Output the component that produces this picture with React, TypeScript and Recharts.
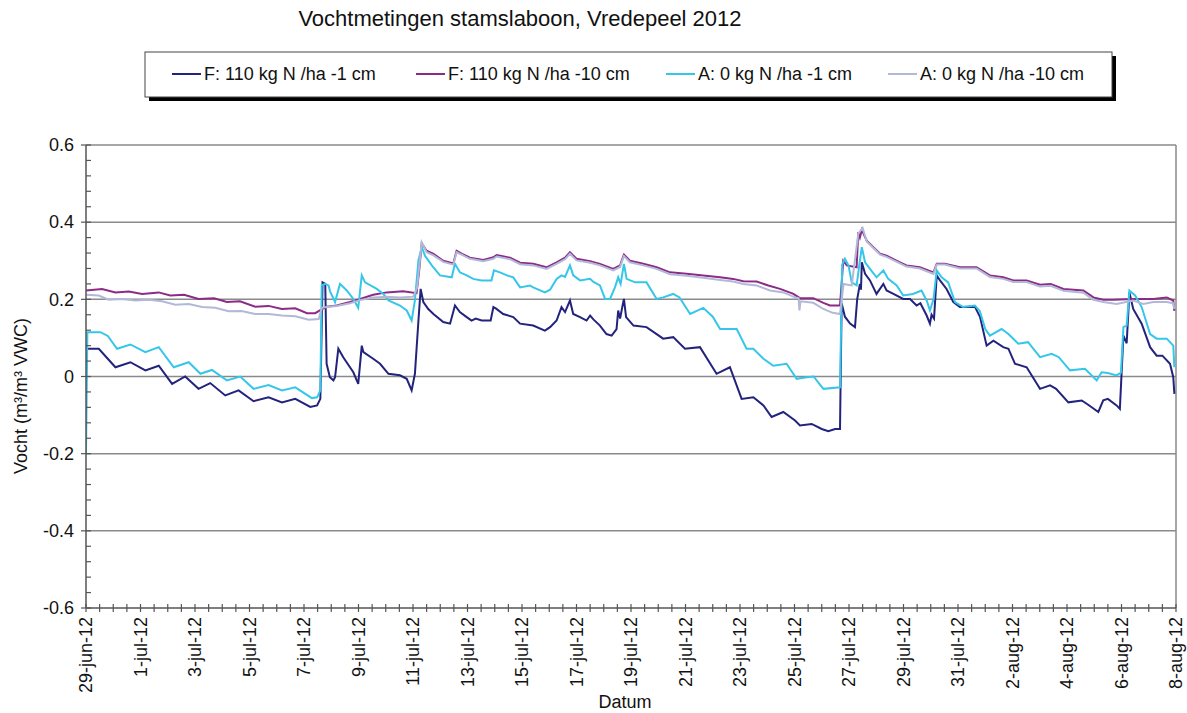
import { LineChart, Line, XAxis, YAxis, ReferenceLine } from 'recharts'

// day offsets from 29-jun-12 00:00, value in m3/m3 VWC
const f1cm: [number, number][] = [
  [0, 0.072], [0.47, 0.072], [1.08, 0.024], [1.63, 0.037], [2.18, 0.016], [2.67, 0.028], [3.16, -0.019], [3.64, 0.0],
  [4.13, -0.032], [4.56, -0.017], [5.11, -0.049], [5.6, -0.036], [6.15, -0.064], [6.7, -0.054], [7.19, -0.067], [7.68, -0.058],
  [8.23, -0.079], [8.48, -0.075], [8.6, -0.058], [8.68, 0.244], [8.78, 0.24], [8.83, 0.033], [8.95, -0.002], [9.08, -0.01],
  [9.14, -0.002], [9.26, 0.072], [9.44, 0.05], [9.81, 0.011], [9.99, -0.019], [10.12, 0.08], [10.18, 0.063], [10.54, 0.046],
  [10.79, 0.033], [11.1, 0.007], [11.52, 0.003], [11.77, -0.006], [11.95, -0.036], [12.07, 0.007], [12.2, 0.145], [12.28, 0.227],
  [12.38, 0.193], [12.56, 0.175], [12.75, 0.162], [13.11, 0.141], [13.36, 0.137], [13.54, 0.184], [13.72, 0.167], [13.97, 0.154],
  [14.15, 0.145], [14.3, 0.15], [14.52, 0.145], [14.85, 0.145], [14.95, 0.18], [15.05, 0.176], [15.31, 0.162], [15.68, 0.154],
  [15.93, 0.137], [16.41, 0.132], [16.84, 0.119], [17.03, 0.128], [17.27, 0.145], [17.45, 0.18], [17.58, 0.167], [17.76, 0.197],
  [17.88, 0.162], [18.13, 0.154], [18.37, 0.145], [18.5, 0.158], [18.62, 0.148], [18.86, 0.132], [19.1, 0.11], [19.29, 0.106],
  [19.47, 0.123], [19.53, 0.171], [19.6, 0.15], [19.68, 0.18], [19.74, 0.201], [19.82, 0.154], [20.09, 0.132], [20.57, 0.128],
  [20.94, 0.11], [21.18, 0.098], [21.55, 0.102], [21.98, 0.072], [22.53, 0.076], [23.14, 0.007], [23.63, 0.024], [24.06, -0.058],
  [24.49, -0.054], [24.86, -0.075], [25.16, -0.105], [25.59, -0.092], [26.02, -0.114], [26.2, -0.127], [26.63, -0.123], [27.0, -0.136],
  [27.24, -0.142], [27.49, -0.136], [27.67, -0.136], [27.73, 0.19], [27.85, 0.155], [28.04, 0.137], [28.22, 0.128], [28.3, 0.2],
  [28.4, 0.24], [28.44, 0.225], [28.47, 0.296], [28.59, 0.266], [28.77, 0.249], [29.01, 0.214], [29.26, 0.24], [29.38, 0.223],
  [29.63, 0.214], [29.99, 0.201], [30.24, 0.201], [30.48, 0.184], [30.62, 0.19], [30.85, 0.158], [30.97, 0.137], [31.03, 0.16],
  [31.12, 0.15], [31.22, 0.262], [31.34, 0.249], [31.58, 0.227], [31.83, 0.193], [32.07, 0.18], [32.62, 0.181], [32.81, 0.154],
  [33.05, 0.08], [33.3, 0.093], [33.66, 0.076], [33.85, 0.072], [34.09, 0.033], [34.52, 0.024], [35.01, -0.032], [35.38, -0.023],
  [35.6, -0.032], [36.05, -0.067], [36.54, -0.062], [36.75, -0.072], [37.15, -0.092], [37.33, -0.062], [37.5, -0.058], [37.82, -0.075],
  [37.94, -0.084], [38.07, 0.106], [38.19, 0.086], [38.29, 0.218], [38.43, 0.175], [38.74, 0.137], [39.05, 0.076], [39.29, 0.054],
  [39.5, 0.054], [39.78, 0.033], [39.9, -0.002], [39.94, -0.045],
]

const f10cm: [number, number][] = [
  [0, 0.223], [0.59, 0.227], [1.08, 0.218], [1.57, 0.22], [2.06, 0.214], [2.67, 0.218], [3.09, 0.21], [3.6, 0.212],
  [4.13, 0.201], [4.7, 0.203], [5.17, 0.193], [5.65, 0.195], [6.21, 0.181], [6.7, 0.183], [7.19, 0.175], [7.68, 0.177],
  [8.11, 0.164], [8.41, 0.164], [8.6, 0.172], [8.83, 0.181], [9.2, 0.184], [9.69, 0.193], [10.06, 0.201], [10.54, 0.212],
  [11.03, 0.218], [11.64, 0.221], [12.13, 0.216], [12.22, 0.27], [12.32, 0.345], [12.5, 0.326], [12.75, 0.318], [13.11, 0.3],
  [13.48, 0.293], [13.6, 0.326], [13.8, 0.318], [14.09, 0.308], [14.58, 0.302], [14.95, 0.309], [15.07, 0.315], [15.56, 0.308],
  [15.93, 0.295], [16.41, 0.292], [16.9, 0.283], [17.27, 0.296], [17.58, 0.308], [17.76, 0.322], [18.0, 0.305], [18.5, 0.299],
  [18.86, 0.292], [19.35, 0.279], [19.6, 0.288], [19.74, 0.316], [19.96, 0.3], [20.45, 0.292], [20.94, 0.283], [21.43, 0.27],
  [22.04, 0.266], [22.65, 0.262], [23.27, 0.257], [23.75, 0.253], [24.12, 0.247], [24.61, 0.246], [25.04, 0.236], [25.47, 0.227],
  [25.96, 0.214], [26.2, 0.203], [26.69, 0.203], [27.06, 0.191], [27.3, 0.184], [27.67, 0.184], [27.79, 0.3], [27.92, 0.288],
  [28.28, 0.283], [28.34, 0.374], [28.4, 0.36], [28.47, 0.38], [28.65, 0.352], [29.14, 0.318], [29.38, 0.313], [29.87, 0.296],
  [30.11, 0.288], [30.6, 0.283], [31.1, 0.27], [31.22, 0.292], [31.52, 0.292], [32.07, 0.283], [32.68, 0.283], [33.17, 0.262],
  [33.66, 0.257], [34.03, 0.249], [34.52, 0.249], [35.01, 0.238], [35.4, 0.24], [35.87, 0.227], [36.6, 0.223], [36.97, 0.205],
  [37.33, 0.199], [37.7, 0.199], [38.43, 0.201], [39.17, 0.201], [39.66, 0.205], [39.9, 0.197], [39.94, 0.17],
]

const a1cm: [number, number][] = [
  [0, -0.2], [0.05, 0.115], [0.53, 0.115], [0.8, 0.105], [1.14, 0.072], [1.63, 0.083], [2.18, 0.063], [2.67, 0.076],
  [3.22, 0.024], [3.77, 0.037], [4.2, 0.007], [4.62, 0.017], [5.17, -0.01], [5.66, 0.0], [6.15, -0.032], [6.7, -0.022],
  [7.19, -0.036], [7.68, -0.028], [8.29, -0.056], [8.48, -0.054], [8.6, -0.036], [8.65, 0.236], [8.77, 0.24], [8.9, 0.236],
  [8.96, 0.22], [9.14, 0.193], [9.32, 0.24], [9.57, 0.223], [9.81, 0.201], [9.99, 0.178], [10.12, 0.262], [10.24, 0.244],
  [10.67, 0.227], [10.91, 0.214], [11.1, 0.197], [11.52, 0.184], [11.77, 0.171], [11.95, 0.145], [12.07, 0.197], [12.2, 0.301],
  [12.32, 0.335], [12.44, 0.313], [12.69, 0.288], [12.99, 0.262], [13.42, 0.257], [13.54, 0.292], [13.72, 0.27], [13.97, 0.262],
  [14.21, 0.253], [14.52, 0.249], [14.88, 0.249], [14.97, 0.275], [15.19, 0.27], [15.45, 0.262], [15.68, 0.257], [15.93, 0.231],
  [16.29, 0.236], [16.41, 0.231], [16.84, 0.218], [17.03, 0.225], [17.27, 0.253], [17.45, 0.262], [17.58, 0.258], [17.76, 0.288],
  [17.88, 0.262], [18.13, 0.249], [18.5, 0.253], [18.62, 0.245], [18.86, 0.236], [19.05, 0.201], [19.23, 0.201], [19.41, 0.231],
  [19.53, 0.257], [19.62, 0.24], [19.74, 0.292], [19.84, 0.253], [20.15, 0.244], [20.57, 0.244], [20.94, 0.201], [21.18, 0.205],
  [21.55, 0.214], [21.78, 0.205], [22.17, 0.162], [22.65, 0.178], [23.0, 0.155], [23.27, 0.123], [23.88, 0.123], [24.24, 0.072],
  [24.49, 0.072], [24.86, 0.046], [25.22, 0.028], [25.71, 0.033], [26.08, -0.006], [26.45, -0.002], [26.7, 0.0], [27.06, -0.032],
  [27.67, -0.028], [27.75, 0.29], [27.85, 0.305], [27.98, 0.288], [28.1, 0.244], [28.28, 0.236], [28.38, 0.29], [28.47, 0.335],
  [28.59, 0.296], [28.77, 0.279], [29.01, 0.257], [29.26, 0.275], [29.44, 0.253], [29.75, 0.236], [29.99, 0.21], [30.35, 0.214],
  [30.66, 0.223], [30.85, 0.197], [30.97, 0.171], [31.1, 0.2], [31.22, 0.275], [31.4, 0.257], [31.64, 0.244], [31.89, 0.193],
  [32.19, 0.18], [32.62, 0.184], [32.8, 0.17], [33.0, 0.123], [33.17, 0.106], [33.6, 0.123], [33.85, 0.11], [34.21, 0.085],
  [34.57, 0.089], [35.01, 0.05], [35.44, 0.059], [35.7, 0.05], [36.11, 0.016], [36.66, 0.02], [37.09, -0.01], [37.27, 0.011],
  [37.5, 0.009], [37.82, 0.003], [37.98, 0.01], [38.07, 0.128], [38.19, 0.132], [38.29, 0.223], [38.5, 0.21], [38.74, 0.18],
  [39.05, 0.11], [39.29, 0.098], [39.66, 0.098], [39.9, 0.08], [39.94, 0.024],
]

const a10cm: [number, number][] = [
  [0, 0.212], [0.47, 0.21], [0.83, 0.199], [1.32, 0.201], [1.81, 0.197], [2.3, 0.199], [2.79, 0.195], [3.28, 0.186],
  [3.77, 0.188], [4.26, 0.18], [4.74, 0.178], [5.24, 0.169], [5.7, 0.17], [6.21, 0.162], [6.7, 0.162], [7.19, 0.158],
  [7.68, 0.156], [8.17, 0.147], [8.54, 0.149], [8.65, 0.178], [8.83, 0.18], [9.2, 0.183], [9.69, 0.19], [10.06, 0.198],
  [10.54, 0.205], [11.03, 0.207], [11.52, 0.205], [12.01, 0.207], [12.15, 0.23], [12.32, 0.348], [12.5, 0.322], [12.75, 0.314],
  [13.11, 0.297], [13.48, 0.29], [13.6, 0.322], [13.8, 0.315], [14.09, 0.305], [14.58, 0.299], [14.95, 0.305], [15.07, 0.311],
  [15.56, 0.304], [15.93, 0.291], [16.41, 0.288], [16.9, 0.279], [17.27, 0.292], [17.58, 0.304], [17.76, 0.318], [18.0, 0.301],
  [18.5, 0.295], [18.86, 0.288], [19.35, 0.275], [19.6, 0.284], [19.74, 0.312], [19.96, 0.296], [20.45, 0.288], [20.94, 0.279],
  [21.43, 0.265], [22.04, 0.261], [22.65, 0.256], [23.27, 0.25], [23.75, 0.246], [24.12, 0.24], [24.61, 0.236], [25.1, 0.223],
  [25.59, 0.218], [26.02, 0.205], [26.15, 0.203], [26.18, 0.171], [26.22, 0.195], [26.69, 0.191], [27.06, 0.175], [27.4, 0.165],
  [27.67, 0.162], [27.8, 0.24], [28.1, 0.236], [28.34, 0.37], [28.5, 0.385], [28.65, 0.35], [29.14, 0.316], [29.38, 0.31],
  [29.87, 0.293], [30.11, 0.285], [30.6, 0.28], [31.1, 0.266], [31.22, 0.29], [31.52, 0.29], [32.07, 0.28], [32.68, 0.28],
  [33.17, 0.258], [33.66, 0.253], [34.03, 0.245], [34.52, 0.245], [35.01, 0.233], [35.4, 0.235], [35.87, 0.222], [36.6, 0.217],
  [36.97, 0.199], [37.33, 0.193], [37.82, 0.188], [38.43, 0.197], [38.8, 0.188], [39.17, 0.193], [39.66, 0.193], [39.9, 0.19],
  [39.94, 0.175],
]

const dateLabels = [
  '29-jun-12', '1-jul-12', '3-jul-12', '5-jul-12', '7-jul-12', '9-jul-12', '11-jul-12', '13-jul-12', '15-jul-12', '17-jul-12',
  '19-jul-12', '21-jul-12', '23-jul-12', '25-jul-12', '27-jul-12', '29-jul-12', '31-jul-12', '2-aug-12', '4-aug-12', '6-aug-12',
  '8-aug-12',
]

const series = [
  { name: 'F: 110 kg N /ha -1 cm', color: '#23237e', points: f1cm },
  { name: 'F: 110 kg N /ha -10 cm', color: '#8c2b87', points: f10cm },
  { name: 'A: 0 kg N /ha -1 cm', color: '#35c6ea', points: a1cm },
  { name: 'A: 0 kg N /ha -10 cm', color: '#b2b9d8', points: a10cm },
]

const W = 1187
const H = 713
const FONT = '"Liberation Sans", Arial, sans-serif'

const xTicks = Array.from({ length: 81 }, (_, i) => i / 2)
const yTicks = Array.from({ length: 31 }, (_, i) => Math.round((i * 0.04 - 0.6) * 100) / 100)
const gridLevels = [0.6, 0.4, 0.2, 0, -0.2, -0.4]

function XTick(props: any) {
  const { x, y, payload } = props
  const v = payload.value
  const isLabel = Math.abs(v % 2) < 1e-6
  return (
    <g>
      <line x1={x} x2={x} y1={y - 4} y2={y + 4} stroke="#555" strokeWidth={1.2} />
      {isLabel && (
        <text
          x={x}
          y={y + 9}
          transform={`rotate(-90, ${x}, ${y + 9})`}
          textAnchor="end"
          dy="0.35em"
          fontSize={18}
          fontFamily={FONT}
          fill="#111"
        >
          {dateLabels[Math.round(v / 2)]}
        </text>
      )}
    </g>
  )
}

function YTick(props: any) {
  const { x, y, payload } = props
  const v = payload.value
  const major = Math.abs(v * 5 - Math.round(v * 5)) < 1e-6
  return (
    <g>
      <line x1={major ? x - 5 : x} x2={x + 5} y1={y} y2={y} stroke="#555" strokeWidth={1.2} />
      {major && (
        <text x={x - 12} y={y} dy="0.35em" textAnchor="end" fontSize={18} fontFamily={FONT} fill="#111">
          {v === 0 ? '0' : v.toFixed(1)}
        </text>
      )}
    </g>
  )
}

const legendLines = [172, 416, 666, 888]

export default function App() {
  return (
    <div style={{ position: 'absolute', left: 0, top: 0, width: W, height: H, background: '#fff' }}>
      <LineChart width={W} height={H} margin={{ top: 145, right: 11, bottom: 0, left: 20 }}>
        {gridLevels.map((g) => (
          <ReferenceLine key={g} y={g} stroke="#8a8a8a" strokeWidth={1.5} />
        ))}
        <ReferenceLine x={40} stroke="#8a8a8a" strokeWidth={1.5} />
        <XAxis
          dataKey="t"
          type="number"
          domain={[0, 40]}
          ticks={xTicks}
          interval={0}
          tick={<XTick />}
          tickLine={false}
          tickSize={0}
          tickMargin={0}
          height={105}
          stroke="#555"
          strokeWidth={1.5}
          allowDataOverflow
        />
        <YAxis
          type="number"
          domain={[-0.6, 0.6]}
          ticks={yTicks}
          interval={0}
          tick={<YTick />}
          tickLine={false}
          tickSize={0}
          tickMargin={0}
          width={66}
          stroke="#555"
          strokeWidth={1.5}
          allowDataOverflow
        />
        {series.map((s) => (
          <Line
            key={s.name}
            data={s.points.map(([t, v]) => ({ t, v }))}
            dataKey="v"
            name={s.name}
            stroke={s.color}
            strokeWidth={2}
            dot={false}
            activeDot={false}
            type="linear"
            isAnimationActive={false}
          />
        ))}
      </LineChart>
      <svg
        width={W}
        height={H}
        style={{ position: 'absolute', left: 0, top: 0, pointerEvents: 'none' }}
        fontFamily={FONT}
      >
        <text x={520} y={26} textAnchor="middle" fontSize={22} fill="#111">
          Vochtmetingen stamslaboon, Vredepeel 2012
        </text>
        <rect x={149} y={56} width={967} height={45} fill="#000" />
        <rect x={145} y={52} width={967} height={45} fill="#fff" stroke="#444" strokeWidth={1} />
        {series.map((s, i) => (
          <g key={s.name}>
            <line x1={legendLines[i]} x2={legendLines[i] + 29} y1={74} y2={74} stroke={s.color} strokeWidth={2} />
            <text x={legendLines[i] + 32} y={74} dy="0.35em" fontSize={18} fill="#111">
              {s.name}
            </text>
          </g>
        ))}
        <text x={625} y={708} textAnchor="middle" fontSize={18} fill="#111">
          Datum
        </text>
        <text
          x={21}
          y={396}
          transform="rotate(-90, 21, 396)"
          textAnchor="middle"
          dy="0.35em"
          fontSize={18}
          fill="#111"
        >
          Vocht (m³/m³ VWC)
        </text>
      </svg>
    </div>
  )
}
